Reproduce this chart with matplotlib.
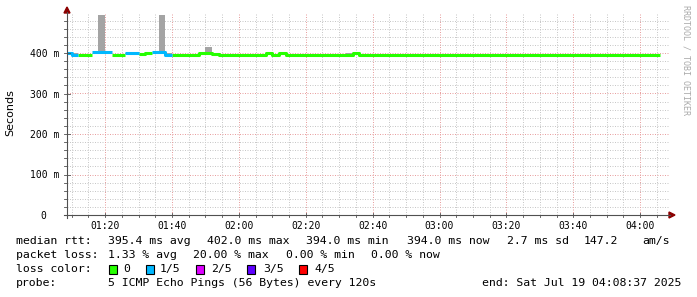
import matplotlib
matplotlib.use('Agg')
import matplotlib.pyplot as plt
import numpy as np
from matplotlib.lines import Line2D
from matplotlib.patches import Polygon, Rectangle

# ---------------- data ----------------
start_minute = 8          # 01:08, steps of 2 minutes
step_minutes = 2
view_start = 8.617        # 01:08:37
view_end = 188.617        # 04:08:37

median_ms = [399, 395, 394, 394, 402, 402, 402, 396, 396, 400,
             400, 398, 400, 402, 402, 396, 394, 394, 394, 394,
             399, 399, 398, 394, 394, 394, 394, 394, 394, 395,
             400, 396, 399, 394, 394, 394, 394, 394, 394, 394,
             394, 394, 396, 401, 394, 394, 394, 394, 394, 394,
             394, 394, 394, 394, 394, 394, 394, 394, 394, 394,
             394, 394, 394, 394, 394, 394, 394, 394, 394, 394,
             394, 394, 394, 394, 394, 394, 394, 394, 394, 394,
             394, 394, 394, 394, 394, 394, 394, 394, 394]

loss = [1, 1, 0, 0, 1, 1, 1, 0, 0, 1,
        1, 0, 0, 1, 1, 1, 0, 0, 0, 0,
        0, 0, 0, 0, 0, 0, 0, 0, 0, 0,
        0, 0, 0, 0, 0, 0, 0, 0, 0, 0,
        0, 0, 0, 0, 0, 0, 0, 0, 0, 0,
        0, 0, 0, 0, 0, 0, 0, 0, 0, 0,
        0, 0, 0, 0, 0, 0, 0, 0, 0, 0,
        0, 0, 0, 0, 0, 0, 0, 0, 0, 0,
        0, 0, 0, 0, 0, 0, 0, 0, 0]

smoke_lo = [399, 395, 394, 394, 402, 401, 402, 396, 396, 397,
            396, 395, 400, 402, 401, 396, 394, 394, 394, 394,
            397, 397, 398, 394, 394, 394, 394, 394, 394, 395,
            400, 396, 399, 394, 394, 394, 394, 394, 394, 394,
            394, 394, 396, 396, 394, 394, 394, 394, 394, 394,
            394, 394, 394, 394, 394, 394, 394, 394, 394, 394,
            394, 394, 394, 394, 394, 394, 394, 394, 394, 394,
            394, 394, 394, 394, 394, 394, 394, 394, 394, 394,
            394, 394, 394, 394, 394, 394, 394, 394, 394]

smoke_hi = [399, 400, 394, 394, 402, 494, 402, 396, 396, 400,
            400, 398, 400, 402, 494, 399, 394, 394, 394, 394,
            403, 414, 398, 394, 394, 394, 394, 394, 397, 398,
            400, 396, 399, 394, 398, 394, 394, 394, 394, 394,
            394, 394, 401, 402, 394, 394, 394, 394, 394, 394,
            394, 394, 394, 394, 394, 394, 394, 394, 394, 394,
            394, 394, 394, 394, 394, 394, 394, 394, 394, 394,
            394, 394, 394, 394, 394, 394, 394, 394, 394, 394,
            394, 394, 394, 394, 394, 394, 394, 394, 394]

x_tick_minutes = [20, 40, 60, 80, 100, 120, 140, 160, 180]
x_tick_labels = ["01:20", "01:40", "02:00", "02:20", "02:40",
                 "03:00", "03:20", "03:40", "04:00"]
y_ticks = [0, 100, 200, 300, 400]
y_tick_labels = ["0  ", "100 m", "200 m", "300 m", "400 m"]

loss_levels = [0, 1, 2, 3, 4]
loss_labels = ["0", "1/5", "2/5", "3/5", "4/5"]
loss_colors = ["#26ff00", "#00b8ff", "#dd00ff", "#5e00ff", "#ff0000"]

stats_rtt = ["395.4 ms avg", "402.0 ms max", "394.0 ms min", "394.0 ms now",
             "2.7 ms sd", "147.2", "am/s"]
stats_loss = ["1.33 % avg", "20.00 % max", "0.00 % min", "0.00 % now"]
probe_text = "5 ICMP Echo Pings (56 Bytes) every 120s"
end_text = "end: Sat Jul 19 04:08:37 2025"

# ---------------- figure ----------------
W, H = 697, 297
fig = plt.figure(figsize=(W / 100, H / 100), dpi=100)
fig.patch.set_facecolor('white')

def fx(x):
    return x / W

def fy(y):
    return 1 - y / H

L, R, T, B = 67, 669, 13, 215
ax = fig.add_axes([fx(L), fy(B), (R - L) / W, (B - T) / H])
ax.set_xlim(view_start, view_end)
ax.set_ylim(0, (B - T) / 0.405)
ax.patch.set_alpha(0)
for s in ax.spines.values():
    s.set_visible(False)

mono = 'DejaVu Sans Mono'

# grid
minor_col = '#c8c8c8'
major_col = '#e8a0a0'
for m in np.arange(10, 189, 5):
    if m % 20 == 0:
        continue
    ax.axvline(m, color=minor_col, lw=0.72, ls=(0, (1, 1.5)), zorder=0)
for v in np.arange(20, 500, 20):
    if v % 100 == 0:
        continue
    ax.axhline(v, color=minor_col, lw=0.72, ls=(0, (1, 1.5)), zorder=0)
for m in x_tick_minutes:
    ax.axvline(m, color=major_col, lw=0.72, ls=(0, (1, 1.5)), zorder=0.5)
for v in y_ticks[1:]:
    ax.axhline(v, color=major_col, lw=0.72, ls=(0, (1, 1.5)), zorder=0.5)

n = len(median_ms)
med = np.array(median_ms, float)
lo = np.array(smoke_lo, float)
hi = np.array(smoke_hi, float)
ls_ = np.array(loss)
x0 = start_minute + step_minutes * np.arange(n)
edges = start_minute + step_minutes * np.arange(n + 1)

# smoke
ax.bar(x0, hi - lo, bottom=lo, width=step_minutes, align='edge',
       color='#a4a4a4', linewidth=0, zorder=2)

# median line colored by loss
for lvl, col in zip(loss_levels, loss_colors):
    y = np.where(ls_ == lvl, med, np.nan)
    if np.all(np.isnan(y)):
        continue
    yy = np.append(y, y[-1])
    ax.plot(edges, yy, drawstyle='steps-post', color=col, lw=2.2,
            solid_capstyle='butt', zorder=3)

# ticks
ax.set_xticks(x_tick_minutes)
ax.set_xticklabels(x_tick_labels, fontfamily=mono, fontsize=7)
ax.set_yticks(y_ticks)
ax.set_yticklabels(y_tick_labels, fontfamily=mono, fontsize=7)
ax.tick_params(axis='x', length=0, pad=4.5)
ax.tick_params(axis='y', length=0, pad=5.8)

# axes lines + arrows
axis_col = '#505050'
fig.add_artist(Line2D([fx(L), fx(L)], [fy(B + 3), fy(12)], color=axis_col, lw=0.8))
fig.add_artist(Line2D([fx(L - 3), fx(670)], [fy(B), fy(B)], color=axis_col, lw=0.8))
arrow_col = '#8b0000'
fig.add_artist(Polygon([[fx(L - 3), fy(13)], [fx(L + 3), fy(13)], [fx(L), fy(7)]],
                       closed=True, color=arrow_col, transform=fig.transFigure))
fig.add_artist(Polygon([[fx(669), fy(B - 3)], [fx(669), fy(B + 3)], [fx(675), fy(B)]],
                       closed=True, color=arrow_col, transform=fig.transFigure))
# small ticks on axes
for v in np.arange(0, 500, 20):
    yp = B - v * 0.405
    fig.add_artist(Line2D([fx(L - 3), fx(L + (3 if v % 100 == 0 else 0))], [fy(yp), fy(yp)],
                          color=axis_col, lw=0.6))
for m in np.arange(10, 189, 5):
    xp = L + (m - view_start) * (R - L) / (view_end - view_start)
    fig.add_artist(Line2D([fx(xp), fx(xp)], [fy(B - (2 if m % 20 == 0 else 0)), fy(B + 2)],
                          color=axis_col, lw=0.6))

# y label
fig.text(fx(10), fy(113), "Seconds", rotation=90, ha='center', va='center',
         fontsize=8, family='DejaVu Sans')
# watermark
fig.text(fx(686), fy(60), "RRDTOOL / TOBI OETIKER", rotation=270, ha='center', va='center',
         fontsize=6, family=mono, color='#aaaaaa')

fs = 8.25
def txt(x, y, s, ha='left'):
    fig.text(fx(x), fy(y), s, ha=ha, va='center', fontsize=fs, family=mono)

# row 1
txt(16, 241, "median rtt:")
for s, x in zip(stats_rtt, [107.8, 207.0, 306.5, 407.0, 507.0, 584.0, 642.0]):
    txt(x, 241, s)
# row 2
txt(16, 255, "packet loss:")
for s, x in zip(stats_loss, [107.8, 193.0, 286.0, 371.0]):
    txt(x, 255, s)
# row 3
txt(16, 269, "loss color:")
box_x = [108.7, 145.7, 196.4, 247.2, 299.0]
lab_x = [123.5, 160.0, 211.5, 263.0, 314.0]
for bx, lx, col, lab in zip(box_x, lab_x, loss_colors, loss_labels):
    fig.add_artist(Rectangle((fx(bx), fy(274)), 8 / W, 9 / H, facecolor=col,
                             edgecolor='black', lw=0.8, transform=fig.transFigure))
    txt(lx, 269, lab)
# row 4
txt(16, 283, "probe:")
txt(107.8, 283, probe_text)
txt(681, 283, end_text, ha='right')

fig.savefig('out.png', dpi=100, facecolor='white')
